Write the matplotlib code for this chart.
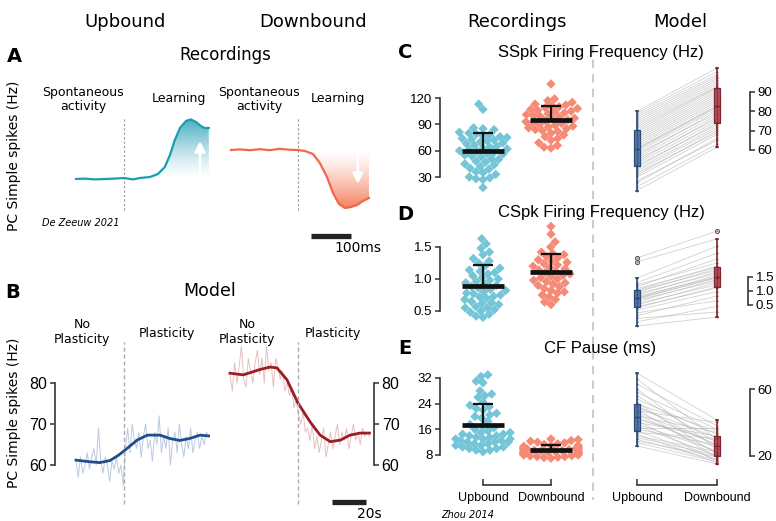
import numpy as np
import pandas as pd
import matplotlib
matplotlib.use("Agg")
import matplotlib.pyplot as plt
import seaborn as sns
from matplotlib.colors import to_rgb
from matplotlib.lines import Line2D

plt.rcParams["font.family"] = ["DejaVu Sans"]

W, H = 776, 521

# ---- panel A: recorded traces (ms, Hz) ----
a_up_t = [0, 22, 47, 72, 97, 120, 142, 160, 185, 205, 222, 235, 247, 260, 275, 287, 300, 312, 322, 332]
a_up_rate = [60, 60.2, 59.8, 60, 60.2, 60.5, 59.8, 60.5, 61, 62.5, 66, 72, 79.5, 85.5, 89, 89.8, 88.5, 86.5, 85.5, 85.5]
a_dn_t = [0, 22, 47, 72, 97, 122, 147, 167, 185, 205, 222, 240, 255, 270, 285, 300, 315, 330, 345]
a_dn_rate = [60, 60.3, 59.9, 60.4, 59.9, 60.6, 60.1, 60, 59.5, 58, 53.5, 46.5, 38.5, 33, 31, 31.5, 32.5, 34.5, 36]
A_UP_ONSET, A_DN_ONSET = 120, 167

# ---- panel B: model traces (s, Hz) ----
b_up_t = [0, 8.2, 14, 20, 25, 29, 36, 42, 49.4, 55, 61, 67, 73, 78]
b_up_smooth = [61.2, 60.8, 60.6, 61.1, 62.4, 63.7, 66.1, 67.3, 67.3, 66.5, 66, 66.5, 67.3, 67.1]
b_up_noisy = [61, 57, 62, 58, 60, 63, 59, 62, 64, 60, 69, 61, 58, 62, 60, 56, 61, 59, 62, 58, 60, 55,
              64, 69, 63, 70, 66, 64, 68, 62, 67, 70, 64, 66, 61, 68, 65, 72, 63, 67, 64, 69, 60, 66,
              68, 63, 70, 65, 62, 67, 64, 69, 63, 66, 68, 64, 67, 65, 68, 67]
b_dn_t = [0, 7.8, 17.6, 23.5, 27.6, 33.5, 40, 47, 53, 59, 65, 70.6, 76.5, 82]
b_dn_smooth = [82.4, 82, 83.3, 83.9, 83.7, 80.8, 75.1, 70.6, 67.3, 65.7, 66.1, 67.3, 67.8, 67.8]
b_dn_noisy = [82, 78, 85, 80, 84, 89, 81, 79, 86, 83, 80, 85, 88, 82, 86, 80, 89, 83, 85, 79, 86,
              84, 81, 83, 78, 80, 77, 79, 74, 76,
              72, 70, 73, 68, 69, 66, 70, 64, 67, 63, 66, 69, 62, 65, 68, 64, 67, 70, 65, 68, 66, 69,
              64, 67, 70, 66, 68, 65, 69, 67, 68, 67]
B_UP_ONSET, B_DN_ONSET = 28.2, 40

# ---- panels C-E: recordings (Zhou 2014) ----
c_rec_up = [113, 107, 86, 85, 84, 81, 80, 79, 78, 77, 76, 75, 74, 73, 72, 71, 70, 69, 68, 66, 65, 64, 63,
            62, 61, 60, 59, 58, 57, 56, 55, 54, 53, 51, 50, 48, 47, 45, 44, 42, 40, 39, 36, 35, 33, 30,
            29, 28, 27, 18]
c_rec_down = [136, 119, 117, 115, 113, 112, 111, 110, 109, 108, 107, 106, 105, 104, 103, 102, 101, 100,
              99, 98, 97, 96, 95, 94, 93, 92, 91, 90, 89, 88, 87, 86, 85, 84, 83, 82, 80, 78, 76, 74,
              72, 69, 66, 64, 63]
d_rec_up = [1.63, 1.55, 1.48, 1.42, 1.38, 1.32, 1.28, 1.25, 1.2, 1.17, 1.14, 1.12, 1.1, 1.08, 1.05, 1.02,
            1.0, 0.98, 0.96, 0.94, 0.92, 0.9, 0.88, 0.86, 0.84, 0.82, 0.8, 0.78, 0.77, 0.75, 0.73, 0.72,
            0.7, 0.68, 0.65, 0.63, 0.62, 0.6, 0.57, 0.55, 0.55, 0.52, 0.5, 0.48, 0.45, 0.42, 0.4]
d_rec_down = [1.82, 1.7, 1.58, 1.5, 1.42, 1.4, 1.38, 1.35, 1.33, 1.3, 1.28, 1.26, 1.24, 1.22, 1.2, 1.18,
              1.16, 1.14, 1.12, 1.1, 1.08, 1.06, 1.04, 1.02, 1.0, 0.98, 0.96, 0.94, 0.92, 0.9, 0.88,
              0.85, 0.82, 0.8, 0.78, 0.75, 0.72, 0.68, 0.64, 0.6]
e_rec_up = [33, 32.5, 31, 30.5, 28, 27, 26.5, 26, 24.5, 23.5, 23, 22.5, 22, 21, 20.5, 20, 19.5, 18.5,
            17.5, 17, 16.5, 16, 15.5, 15, 15, 14.5, 14.5, 14, 14, 13.5, 13.5, 13, 13, 13, 12.5, 12.5,
            12, 12, 12, 11.5, 11.5, 11, 11, 10.5, 10.5, 10, 10, 9.5, 9.5, 9]
e_rec_down = [13, 12.8, 12.5, 12.3, 12, 11.8, 11.5, 11.3, 11, 10.9, 10.7, 10.5, 10.3, 10.2, 10, 10, 9.8,
              9.7, 9.5, 9.5, 9.3, 9.2, 9, 9, 8.8, 8.7, 8.5, 8.5, 8.3, 8.2, 8, 8, 7.8, 7.7, 7.5, 7.5,
              7.3, 7.2, 7, 8.6, 9.1, 9.6, 10.1, 8.9, 9.4]

# ---- panels C-E: model, paired cells (upbound -> downbound) ----
c_mod_up = [39, 41, 43, 44, 46, 47, 48, 49, 50, 51, 52, 53, 54, 55, 56, 57, 58, 59, 60, 60.5,
            61, 62, 63, 64, 65, 66, 67, 68, 69, 70, 71, 72, 73, 74, 75, 76, 77, 78, 79, 80]
c_mod_down = [61.5, 63, 66, 65, 68, 70, 69, 71, 72, 74, 73, 75, 77, 76, 78, 80, 79, 81, 82, 83,
              82.5, 84, 85, 86, 87, 88, 89, 90, 91, 92, 92.5, 93, 94, 95, 96, 97, 98, 99, 100.5, 102.4]
d_mod_up = [-0.25, -0.1, 0.02, 0.12, 0.22, 0.32, 0.4, 0.44, 0.5, 0.56, 0.62, 0.67, 0.71, 0.74,
            0.76, 0.8, 0.85, 0.9, 0.95, 1.0, 1.03, 1.08, 1.15, 1.22, 1.3, 1.46, 2.04, 2.18]
d_mod_down = [0.07, 0.45, 0.25, 0.82, 0.65, 0.98, 1.15, 1.1, 1.3, 1.22, 1.42, 1.36, 1.49, 1.47,
              1.56, 1.51, 1.68, 1.62, 1.8, 1.74, 1.9, 1.85, 2.15, 2.0, 2.35, 2.6, 2.86, 3.14]
e_mod_up = [69.5, 66, 63, 60, 58, 56, 54, 52, 51, 50, 49, 48, 47, 46, 45, 44, 43, 42, 41, 40,
            39, 38, 37, 36, 35, 34, 33, 32, 31, 30, 29, 28, 26]
e_mod_down = [41.5, 30, 38, 24, 36, 28, 33, 21, 35, 26, 31, 19, 40, 27, 22, 34, 25, 29, 17, 32,
              23, 20, 37, 26.5, 18, 30.5, 16, 22.5, 20.5, 17.5, 19.5, 16.5, 15.2]

GROUPS = ["Upbound", "Downbound"]

TEAL, ORANGE = "#1b9db2", "#f2664a"
TEAL_PT, SALMON_PT = "#74c5d7", "#f68a77"
BLUE_L, BLUE_D = "#a9bcd8", "#1f4e8c"
RED_L, RED_D = "#deb0b2", "#9b1c22"
BOX_FACE = ["#5a7fae", "#b9535d"]
BOX_EDGE = ["#2b4a75", "#7c2430"]
SPINE = "#333333"


def px_rect(x0, y0, x1, y1):
    return [x0 / W, 1 - y1 / H, (x1 - x0) / W, (y1 - y0) / H]


def ftext(x, y, s, **kw):
    kw.setdefault("ha", "center")
    kw.setdefault("va", "center")
    fig.text(x / W, 1 - y / H, s, **kw)


def gradient_fill(ax, t, y, base, start, color, strong_low):
    t, y = np.asarray(t, float), np.asarray(y, float)
    keep = t >= start
    poly = ax.fill_between(t[keep], y[keep], base, facecolor="none", edgecolor="none")
    lo, hi = min(y[keep].min(), base), max(y[keep].max(), base)
    ramp = np.linspace(0, 1, 256) ** 1.3
    if strong_low:
        ramp = ramp[::-1]
    img = np.zeros((256, 1, 4))
    img[..., :3] = to_rgb(color)
    img[:, 0, 3] = ramp * 0.85
    im = ax.imshow(img, extent=[t[keep].min(), t[keep].max(), lo, hi], origin="lower",
                   aspect="auto", zorder=2, interpolation="bilinear")
    im.set_clip_path(poly.get_paths()[0], transform=ax.transData)


def only_spine(ax, side, bounds, ticks, labels, size):
    for s in ["top", "right", "left", "bottom"]:
        ax.spines[s].set_visible(False)
    ax.spines[side].set_visible(True)
    ax.spines[side].set_bounds(*bounds)
    ax.spines[side].set_color(SPINE)
    ax.spines[side].set_linewidth(1.2)
    ax.yaxis.set_ticks_position(side)
    ax.set_yticks(ticks, labels=labels, fontfamily="Liberation Sans", fontsize=size)
    ax.tick_params(axis="y", length=3.5, width=1.1, color=SPINE, pad=2)
    ax.set_xticks([])
    ax.patch.set_visible(False)


def bottom_groups(ax):
    ax.spines["bottom"].set_visible(True)
    ax.spines["bottom"].set_position(("outward", 11))
    ax.spines["bottom"].set_bounds(0, 1)
    ax.spines["bottom"].set_color(SPINE)
    ax.spines["bottom"].set_linewidth(1.2)
    ax.set_xticks([0, 1], labels=GROUPS, fontfamily="Liberation Sans", fontsize=9)
    ax.tick_params(axis="x", direction="in", length=4, width=1.1, color=SPINE, pad=5)


def rec_panel(rect, up, dn, xlim, ylim, ticks, labels):
    ax = fig.add_axes(rect)
    df = pd.DataFrame({"group": [GROUPS[0]] * len(up) + [GROUPS[1]] * len(dn),
                       "value": list(up) + list(dn)})
    sns.swarmplot(data=df, x="group", y="value", hue="group", order=GROUPS,
                  palette=[TEAL_PT, SALMON_PT], marker="D", size=4.8, linewidth=0,
                  legend=False, ax=ax)
    for i, v in enumerate([up, dn]):
        m, s = np.mean(v), np.std(v, ddof=1)
        ax.hlines(m, i - 0.31, i + 0.31, color="#111111", lw=3.4, zorder=5)
        ax.vlines(i, m, m + s, color="#111111", lw=1.6, zorder=5)
        ax.hlines(m + s, i - 0.15, i + 0.15, color="#111111", lw=1.6, zorder=5)
    ax.set_xlim(*xlim)
    ax.set_ylim(*ylim)
    ax.set_xlabel("")
    ax.set_ylabel("")
    only_spine(ax, "left", (ticks[0], ticks[-1]), ticks, labels, 9.5)
    return ax


def model_panel(rect, up, dn, xlim, ylim, ticks, labels, whis):
    ax = fig.add_axes(rect)
    up, dn = np.asarray(up), np.asarray(dn)
    ax.plot(np.vstack([np.zeros(len(up)), np.ones(len(dn))]), np.vstack([up, dn]),
            color="#b3b3b3", lw=0.6, alpha=0.6, zorder=1)
    for i, v in enumerate([up, dn]):
        ax.boxplot(v, positions=[i], widths=0.065, whis=whis[i], patch_artist=True,
                   manage_ticks=False,
                   boxprops=dict(facecolor=BOX_FACE[i], edgecolor=BOX_EDGE[i], lw=0.9),
                   medianprops=dict(color=BOX_EDGE[i], lw=1),
                   whiskerprops=dict(color=BOX_EDGE[i], lw=1.2),
                   capprops=dict(color=BOX_EDGE[i], lw=1.2),
                   flierprops=dict(marker="o", ms=3, mfc="none", mec="#555555", mew=0.7),
                   zorder=3)
        ax.scatter(np.full(len(v), i), v, s=2.5, color=BOX_EDGE[i], alpha=0.6, lw=0, zorder=4)
    ax.set_xlim(*xlim)
    ax.set_ylim(*ylim)
    only_spine(ax, "right", (ticks[0], ticks[-1]), ticks, labels, 9.5)
    return ax


fig = plt.figure(figsize=(W / 100, H / 100), dpi=100)

# column headers
ftext(125, 22, "Upbound", fontsize=13)
ftext(313, 22, "Downbound", fontsize=13)
ftext(517, 22, "Recordings", fontsize=13)
ftext(680, 22, "Model", fontsize=13)

# ---------------- A ----------------
ftext(14, 56, "A", fontsize=14, fontweight="bold")
ftext(225, 55, "Recordings", fontsize=12)
ftext(14, 156, "PC Simple spikes (Hz)", fontsize=10, rotation=90)

axa1 = fig.add_axes(px_rect(60, 110, 215, 215))
axa1.plot(a_up_t, a_up_rate, color=TEAL, lw=1.6, zorder=3)
gradient_fill(axa1, a_up_t, a_up_rate, 60, 185, "#2aa0b6", strong_low=False)
axa1.annotate("", xy=(310, 79), xytext=(310, 60),
              arrowprops=dict(arrowstyle="-|>,head_width=0.3,head_length=0.6", color="white",
                              lw=2, shrinkA=0, shrinkB=0), zorder=4)
axa1.axvline(A_UP_ONSET, ymin=0.05, ymax=0.93, color="#999999", lw=0.8, ls=(0, (2, 2)))
axa1.set_xlim(-40, 347.5)
axa1.set_ylim(42, 94.5)
axa1.axis("off")

axa2 = fig.add_axes(px_rect(225, 110, 375, 215))
axa2.plot(a_dn_t, a_dn_rate, color=ORANGE, lw=1.6, zorder=3)
gradient_fill(axa2, a_dn_t, a_dn_rate, 60, 190, "#f36b45", strong_low=True)
axa2.annotate("", xy=(317, 43), xytext=(317, 59),
              arrowprops=dict(arrowstyle="-|>,head_width=0.3,head_length=0.6", color="white",
                              lw=2, shrinkA=0, shrinkB=0), zorder=4)
axa2.axvline(A_DN_ONSET, ymin=0.05, ymax=0.93, color="#999999", lw=0.8, ls=(0, (2, 2)))
axa2.plot([200, 300], [17, 17], color="#222222", lw=3.8, solid_capstyle="butt", clip_on=False)
axa2.set_xlim(-15, 360)
axa2.set_ylim(27.5, 80)
axa2.axis("off")

ftext(83, 99.5, "Spontaneous\nactivity", fontsize=9, linespacing=1.15)
ftext(179, 99, "Learning", fontsize=9)
ftext(259, 99.5, "Spontaneous\nactivity", fontsize=9, linespacing=1.15)
ftext(338, 99, "Learning", fontsize=9)
ftext(81, 223, "De Zeeuw 2021", fontsize=7, style="italic")
ftext(358, 248, "100ms", fontsize=10)

# ---------------- B ----------------
ftext(13, 292, "B", fontsize=14, fontweight="bold")
ftext(210, 291, "Model", fontsize=12.5)
ftext(14, 413, "PC Simple spikes (Hz)", fontsize=10, rotation=90)

axb1 = fig.add_axes(px_rect(55, 340, 212, 520))
axb1.plot(np.linspace(0, 78, len(b_up_noisy)), b_up_noisy, color=BLUE_L, lw=0.7, alpha=0.8)
axb1.plot(b_up_t, b_up_smooth, color=BLUE_D, lw=2)
axb1.axvline(B_UP_ONSET, ymin=0.09, ymax=0.99, color="#aaaaaa", lw=1, ls=(0, (3, 2)))
axb1.set_xlim(-12.35, 80)
axb1.set_ylim(46.6, 90.5)
only_spine(axb1, "left", (60, 80), [60, 70, 80], ["60", "70", "80"], 11.5)

axb2 = fig.add_axes(px_rect(228, 340, 374, 520))
axb2.plot(np.linspace(0, 82, len(b_dn_noisy)), b_dn_noisy, color=RED_L, lw=0.7, alpha=0.8)
axb2.plot(b_dn_t, b_dn_smooth, color=RED_D, lw=2)
axb2.axvline(B_DN_ONSET, ymin=0.09, ymax=0.99, color="#aaaaaa", lw=1, ls=(0, (3, 2)))
axb2.plot([60, 80], [51, 51], color="#222222", lw=3.8, solid_capstyle="butt", clip_on=False)
axb2.set_xlim(-1.18, 84.7)
axb2.set_ylim(46.6, 90.5)
only_spine(axb2, "right", (60, 80), [60, 70, 80], ["60", "70", "80"], 11.5)

ftext(82, 332, "No\nPlasticity", fontsize=9, linespacing=1.1)
ftext(167, 333, "Plasticity", fontsize=9)
ftext(247, 332, "No\nPlasticity", fontsize=9, linespacing=1.1)
ftext(333, 333, "Plasticity", fontsize=9)
ftext(369, 514, "20s", fontsize=10)

# ---------------- C, D, E ----------------
REC_X = (-0.632, 1.574)
MOD_X = (-0.4625, 1.4125)

ftext(405, 53, "C", fontsize=14, fontweight="bold")
ftext(601, 53, "SSpk Firing Frequency (Hz)", fontsize=12, fontfamily="Liberation Sans")
rec_panel(px_rect(440, 70, 590, 195), c_rec_up, c_rec_down, REC_X, (9.5, 151.9),
          [30, 60, 90, 120], ["30", "60", "90", "120"])
model_panel(px_rect(600, 60, 750, 195), c_mod_up, c_mod_down, MOD_X, (36.7, 106.55),
            [60, 70, 80, 90], ["60", "70", "80", "90"], [1.5, 1.5])

ftext(405, 214, "D", fontsize=14, fontweight="bold")
ftext(601, 212, "CSpk Firing Frequency (Hz)", fontsize=12, fontfamily="Liberation Sans")
rec_panel(px_rect(440, 222, 590, 325), d_rec_up, d_rec_down, REC_X, (0.281, 1.89),
          [0.5, 1.0, 1.5], ["0.5", "1.0", "1.5"])
model_panel(px_rect(600, 222, 748, 330), d_mod_up, d_mod_down, (-0.4625, 1.3875), (-0.393, 3.464),
            [0.5, 1.0, 1.5], ["0.5", "1.0", "1.5"], [(0, 93), (0, 97)])

ftext(405, 348, "E", fontsize=14, fontweight="bold")
ftext(600, 349, "CF Pause (ms)", fontsize=12, fontfamily="Liberation Sans")
axe1 = rec_panel(px_rect(440, 365, 590, 470), e_rec_up, e_rec_down, REC_X, (3.32, 36.05),
                 [8, 16, 24, 32], ["8", "16", "24", "32"])
bottom_groups(axe1)
axe2 = model_panel(px_rect(600, 365, 750, 470), e_mod_up, e_mod_down, MOD_X, (11.64, 74.33),
                   [20, 60], ["20", "60"], [1.5, 1.5])
bottom_groups(axe2)
ftext(468, 515, "Zhou 2014", fontsize=7, style="italic")

# divider between recordings and model
fig.add_artist(Line2D([593 / W, 593 / W], [1 - 45 / H, 1 - 500 / H], transform=fig.transFigure,
                      color="#cccccc", lw=1.5, ls=(0, (4, 3))))

fig.savefig("out.png", dpi=100)
